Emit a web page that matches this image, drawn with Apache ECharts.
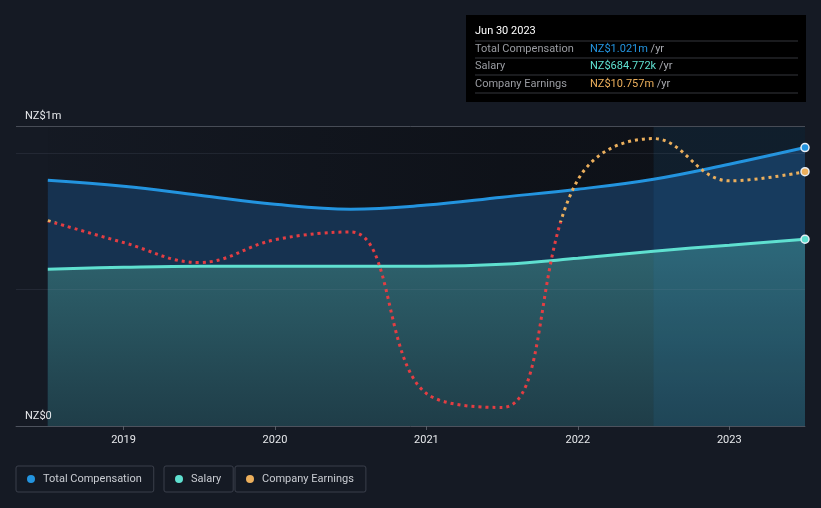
<!DOCTYPE html>
<html>
<head>
    <meta charset="utf-8">
    <title>CEO Compensation vs Earnings</title>
    <script src="https://cdn.jsdelivr.net/npm/echarts@6/dist/echarts.min.js"></script>
    <style>
        html, body { margin: 0; padding: 0; background: #151a24; }
        #main { width: 821px; height: 508px; }
    </style>
</head>
<body>
<div id="main"></div>
<script type="text/javascript">
    // half-year points, Jun 2018 .. Jun 2023
    var periods = [2018.5, 2019, 2019.5, 2020, 2020.5, 2021, 2021.5, 2022, 2022.5, 2023, 2023.5];
    // NZ$ millions
    var totalComp = [0.901, 0.879, 0.846, 0.813, 0.795, 0.810, 0.839, 0.868, 0.905, 0.960, 1.021];
    var salary = [0.575, 0.582, 0.586, 0.586, 0.586, 0.586, 0.593, 0.615, 0.641, 0.663, 0.684772];
    var earnings = [0.2, -4.5, -8.8, -3.9, -2.2, -37.0, -40.0, 9.0, 17.9, 8.8, 10.757];
    var yearTicks = [2019, 2020, 2021, 2022, 2023];
    var lastLabel = 'Jun 30 2023';

    var C_TOTAL = '#2394df', C_SALARY = '#5fe0d0', C_EARN = '#ecaf5c', C_LOSS = '#e43d42';
    var Y_TOP = 1.1;

    var n = periods.length - 1;

    // [x, y] pairs; the last point gets the end marker
    function pairs(vals, marker) {
        return vals.map(function (v, i) {
            var item = { value: [periods[i], v] };
            if (marker && i === n) {
                item.symbol = 'circle';
                item.symbolSize = 8;
                item.itemStyle = { borderColor: '#e8eef5', borderWidth: 1.5 };
            }
            return item;
        });
    }
    function band(from, to) {
        return [[from, Y_TOP], [to, Y_TOP]];
    }

    var fmtTotal = 'NZ$' + totalComp[n].toFixed(3) + 'm';
    var fmtSalary = 'NZ$' + (salary[n] * 1000).toFixed(3) + 'k';
    var fmtEarn = 'NZ$' + earnings[n].toFixed(3) + 'm';

    var myChart = echarts.init(document.getElementById('main'));

    function legendBox(left, name, color) {
        return {
            left: left, top: 466,
            selectedMode: false,
            data: [{ name: name, itemStyle: { color: color, borderWidth: 0 } }],
            icon: 'circle', itemWidth: 8, itemHeight: 8,
            padding: [6, 12, 6, 11],
            borderColor: '#3a3f4b', borderWidth: 1, borderRadius: 2,
            textStyle: { color: '#c9ccd2', fontSize: 11, fontFamily: 'Roboto', lineHeight: 14, padding: [0, 0, 0, 3] }
        };
    }

    // info box top right
    var rowY = [49, 66, 84];
    var rows = [
        ['Total Compensation', fmtTotal, C_TOTAL],
        ['Salary', fmtSalary, C_SALARY],
        ['Company Earnings', fmtEarn, C_EARN]
    ];
    var tipEls = [
        { type: 'rect', shape: { x: 466, y: 15, width: 340, height: 87 }, style: { fill: '#000000' } },
        { type: 'text', x: 475, y: 31, style: { text: lastLabel, fill: '#ffffff', font: '11px Roboto', verticalAlign: 'middle' } }
    ];
    [41, 58, 75, 93].forEach(function (y) {
        tipEls.push({ type: 'line', shape: { x1: 475, y1: y, x2: 798, y2: y }, style: { stroke: '#34373d', lineWidth: 1 } });
    });
    rows.forEach(function (r, i) {
        tipEls.push({ type: 'text', x: 475, y: rowY[i], style: { text: r[0], fill: '#9a9ca2', font: '11px Roboto', verticalAlign: 'middle' } });
        tipEls.push({ type: 'text', x: 590, y: rowY[i], style: {
            rich: { v: { fill: r[2], font: '11px Roboto' }, u: { fill: '#a8aab0', font: '11px Roboto' } },
            text: '{v|' + r[1] + '}{u| /yr}', verticalAlign: 'middle' } });
    });

    var option = {
        backgroundColor: '#151a24',
        animation: false,
        grid: { left: 16, right: 16, top: 126, bottom: 82 },
        xAxis: {
            type: 'value',
            min: 2018.29, max: 2023.5,
            splitLine: { show: false },
            axisLine: { lineStyle: { color: '#454952', width: 1 } },
            axisTick: { customValues: yearTicks, length: 4, lineStyle: { color: '#555a63' } },
            axisLabel: { customValues: yearTicks, color: '#e6e8eb', fontSize: 11, fontFamily: 'Roboto', margin: 9,
                formatter: function (v) { return String(v); } }
        },
        yAxis: [{
            type: 'value', min: 0, max: Y_TOP, interval: 0.5, z: 10,
            axisLine: { show: false }, axisTick: { show: false },
            splitLine: { lineStyle: { color: 'rgba(140,150,170,0.12)', width: 1 } },
            axisLabel: {
                customValues: [0, Y_TOP], inside: true, margin: 9,
                verticalAlign: 'bottom', padding: [0, 0, 4, 0],
                color: '#e6e8eb', fontSize: 11, fontFamily: 'Roboto',
                formatter: function (v) { return v === 0 ? 'NZ$0' : 'NZ$1m'; }
            }
        }, {
            type: 'value', min: -44, max: 20.6, show: false, splitLine: { show: false }
        }],
        visualMap: {
            type: 'piecewise', show: false, seriesIndex: 6, dimension: 1,
            pieces: [
                { gt: -1000, lte: 0, color: C_LOSS },
                { gt: 0, lte: 1000, color: C_EARN }
            ]
        },
        legend: [
            legendBox(16, 'Total Compensation', C_TOTAL),
            legendBox(164, 'Salary', C_SALARY),
            legendBox(235, 'Company Earnings', C_EARN)
        ],
        graphic: tipEls,
        series: [{
            // darker shading behind the data range
            name: 'shade', type: 'line', z: 1, silent: true, symbol: 'none',
            lineStyle: { width: 0 },
            areaStyle: { opacity: 1, color: new echarts.graphic.LinearGradient(0, 0, 1, 0, [
                { offset: 0, color: 'rgba(8,10,14,0.05)' },
                { offset: 0.6, color: 'rgba(8,10,14,0.5)' },
                { offset: 1, color: 'rgba(8,10,14,0.55)' }
            ]) },
            data: band(periods[0], periods[n]),
            markLine: {
                silent: true, symbol: 'none', label: { show: false },
                lineStyle: { color: '#3e424b', width: 1, type: 'solid' },
                data: [{ yAxis: Y_TOP }]
            }
        }, {
            name: 'totalArea', type: 'line', z: 2, silent: true, smooth: 0.4, symbol: 'none',
            lineStyle: { width: 0 },
            areaStyle: { color: '#163250', opacity: 1 },
            data: pairs(totalComp, false)
        }, {
            name: 'salaryArea', type: 'line', z: 2, silent: true, smooth: 0.4, symbol: 'none',
            lineStyle: { width: 0 },
            areaStyle: { opacity: 1, color: new echarts.graphic.LinearGradient(0, 0, 0, 1, [
                { offset: 0, color: '#2f6570' },
                { offset: 1, color: '#1f3d48' }
            ]) },
            data: pairs(salary, false)
        }, {
            // last twelve months highlight
            name: 'ltm', type: 'line', z: 3, silent: true, symbol: 'none',
            lineStyle: { width: 0 },
            areaStyle: { opacity: 1, color: 'rgba(40,135,205,0.11)' },
            data: band(periods[n - 2], periods[n])
        }, {
            name: 'Total Compensation', type: 'line', z: 4,
            smooth: 0.4, symbol: 'none', showSymbol: true,
            color: C_TOTAL,
            lineStyle: { color: C_TOTAL, width: 3 },
            data: pairs(totalComp, true)
        }, {
            name: 'Salary', type: 'line', z: 4,
            smooth: 0.4, symbol: 'none', showSymbol: true,
            color: C_SALARY,
            lineStyle: { color: C_SALARY, width: 3 },
            data: pairs(salary, true)
        }, {
            name: 'Company Earnings', type: 'line', z: 5, yAxisIndex: 1,
            smooth: 0.4, symbol: 'none', showSymbol: true,
            color: C_EARN,
            lineStyle: { width: 3, type: [3, 4] },
            data: pairs(earnings, true)
        }]
    };

    myChart.setOption(option);
</script>
</body>
</html>
